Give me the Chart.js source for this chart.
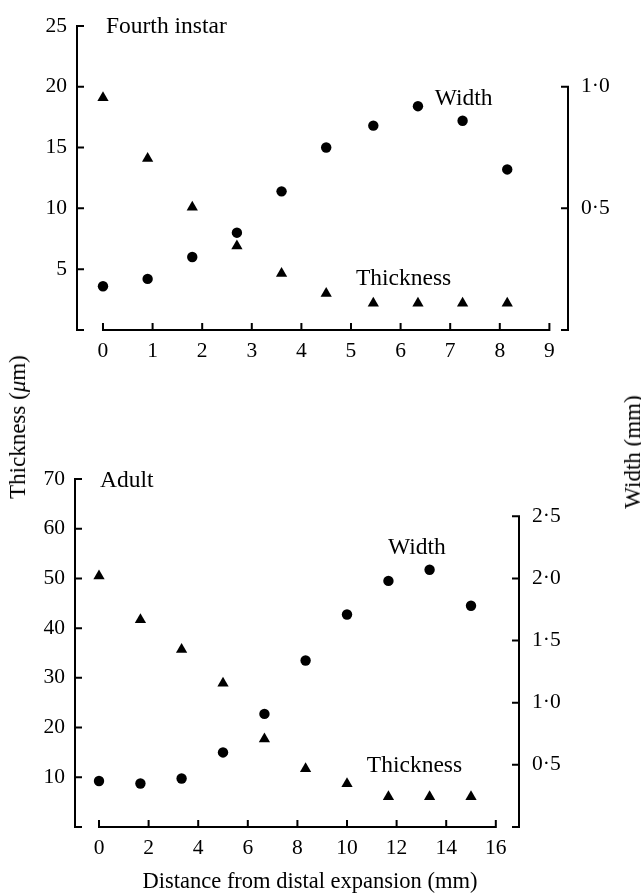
<!DOCTYPE html>
<html lang="en">
  <head>
    <meta charset="UTF-8" />
    <title>Thickness and width along the expansion</title>
    <style>
      html, body { margin: 0; padding: 0; background: #fff; }
      .page {
        position: relative;
        width: 641px;
        height: 894px;
        overflow: hidden;
        font-family: "Liberation Serif", "Times New Roman", serif;
        color: #000;
      }
      canvas { position: absolute; left: 0; }
      #instarChart { top: 0; }
      #adultChart { top: 440px; }
      .side-title {
        position: absolute;
        font-size: 23px;
        white-space: nowrap;
        transform: translate(-50%, -50%) rotate(-90deg);
      }
      .x-title {
        position: absolute;
        font-size: 22.5px;
        white-space: nowrap;
        transform: translate(-50%, -50%);
      }
    </style>
  </head>
  <body>
    <div class="page">
      <canvas id="instarChart" width="641" height="370"></canvas>
      <canvas id="adultChart" width="641" height="454"></canvas>
      <div class="side-title" style="left: 18px; top: 427px">Thickness (<i>μ</i>m)</div>
      <div class="side-title" style="left: 633px; top: 452px">Width (mm)</div>
      <div class="x-title" style="left: 310px; top: 881px">Distance from distal expansion (mm)</div>
    </div>

    <script src="https://cdn.jsdelivr.net/npm/chart.js@4.4.0/dist/chart.umd.min.js"></script>
    <script>
      // Fourth instar
      const instarDistance = [0, 0.9, 1.8, 2.7, 3.6, 4.5, 5.45, 6.35, 7.25, 8.15];
      const instarThickness = [19.1, 14.1, 10.1, 6.9, 4.65, 3.0, 2.2, 2.2, 2.2, 2.2];
      const instarWidth = [0.18, 0.21, 0.3, 0.4, 0.57, 0.75, 0.84, 0.92, 0.86, 0.66];
      const instarXTicks = [0, 1, 2, 3, 4, 5, 6, 7, 8, 9];
      const instarThickTicks = [0, 5, 10, 15, 20, 25];
      const instarWidthTicks = [0, 0.5, 1.0];

      // Adult
      const adultDistance = [0, 1.67, 3.33, 5.0, 6.67, 8.33, 10, 11.67, 13.33, 15];
      const adultThickness = [50.5, 41.7, 35.7, 28.9, 17.7, 11.7, 8.7, 6.1, 6.1, 6.1];
      const adultWidth = [0.37, 0.35, 0.39, 0.6, 0.91, 1.34, 1.71, 1.98, 2.07, 1.78];
      const adultXTicks = [0, 2, 4, 6, 8, 10, 12, 14, 16];
      const adultThickTicks = [0, 10, 20, 30, 40, 50, 60, 70];
      const adultWidthTicks = [0, 0.5, 1.0, 1.5, 2.0, 2.5];

      const FONT = '"Liberation Serif", "Times New Roman", serif';
      const INK = "#000";

      function fixedTicks(values) {
        return (scale) => {
          scale.ticks = values.map((v) => ({ value: v }));
        };
      }

      function fixedSize(prop, size) {
        return (scale) => {
          scale[prop] = size;
        };
      }

      function points(xs, ys) {
        return xs.map((x, i) => ({ x: x, y: ys[i] }));
      }

      const hideZero = (v) => (v === 0 ? "" : String(v));
      const dotDecimal = (v) => (v === 0 ? "" : v.toFixed(1).replace(".", "·"));

      // axis lines with ticks pointing into the plot, only over the tick range
      const inwardAxes = {
        id: "inwardAxes",
        afterDraw(chart) {
          const { ctx, chartArea } = chart;
          const len = 6;
          ctx.save();
          ctx.strokeStyle = INK;
          ctx.lineCap = "square";
          Object.values(chart.scales).forEach((scale) => {
            const ticks = scale.ticks;
            if (!ticks.length) return;
            const a = scale.getPixelForValue(ticks[0].value);
            const b = scale.getPixelForValue(ticks[ticks.length - 1].value);
            ctx.lineWidth = 2;
            ctx.beginPath();
            if (scale.axis === "x") {
              const y = chartArea.bottom;
              ctx.moveTo(a, y);
              ctx.lineTo(b, y);
              ticks.forEach((t) => {
                const p = scale.getPixelForValue(t.value);
                ctx.moveTo(p, y);
                ctx.lineTo(p, y - len);
              });
            } else {
              const left = scale.position === "left";
              const x = left ? chartArea.left : chartArea.right;
              const dir = left ? 1 : -1;
              ctx.moveTo(x, a);
              ctx.lineTo(x, b);
              ticks.forEach((t) => {
                const p = scale.getPixelForValue(t.value);
                ctx.moveTo(x, p);
                ctx.lineTo(x + dir * len, p);
              });
            }
            ctx.stroke();
          });
          ctx.restore();
        },
      };

      // text labels placed in data units
      const notes = {
        id: "notes",
        afterDraw(chart, args, opts) {
          const { ctx } = chart;
          ctx.save();
          ctx.fillStyle = INK;
          ctx.font = "23.5px " + FONT;
          ctx.textAlign = "left";
          ctx.textBaseline = "middle";
          (opts.items || []).forEach(([text, x, y]) => {
            ctx.fillText(
              text,
              chart.scales.x.getPixelForValue(x),
              chart.scales.y.getPixelForValue(y)
            );
          });
          ctx.restore();
        },
      };

      function tickFont() {
        return { family: FONT, size: 21.5 };
      }

      function makeChart(id, cfg) {
        return new Chart(document.getElementById(id), {
          type: "scatter",
          data: {
            datasets: [
              {
                label: "Thickness",
                data: points(cfg.distance, cfg.thickness),
                yAxisID: "y",
                pointStyle: "triangle",
                pointRadius: 6.5,
                backgroundColor: INK,
                borderColor: INK,
                borderWidth: 0,
              },
              {
                label: "Width",
                data: points(cfg.distance, cfg.width),
                yAxisID: "y2",
                pointStyle: "circle",
                pointRadius: 5.2,
                backgroundColor: INK,
                borderColor: INK,
                borderWidth: 0,
              },
            ],
          },
          options: {
            responsive: false,
            animation: false,
            layout: { padding: { top: cfg.top, left: 0, right: 0, bottom: 0 } },
            plugins: {
              legend: { display: false },
              tooltip: { enabled: false },
              notes: { items: cfg.notes },
            },
            scales: {
              x: {
                type: "linear",
                min: cfg.xMin,
                max: cfg.xMax,
                grid: { display: false, drawTicks: false },
                border: { display: false },
                afterBuildTicks: fixedTicks(cfg.xTicks),
                afterFit: fixedSize("height", cfg.xHeight),
                ticks: {
                  color: INK,
                  font: tickFont(),
                  padding: 8,
                  maxRotation: 0,
                  autoSkip: false,
                },
              },
              y: {
                position: "left",
                min: 0,
                max: cfg.yMax,
                grid: { display: false, drawTicks: false },
                border: { display: false },
                afterBuildTicks: fixedTicks(cfg.yTicks),
                afterFit: fixedSize("width", cfg.yWidth),
                ticks: {
                  color: INK,
                  font: tickFont(),
                  padding: 10,
                  autoSkip: false,
                  callback: hideZero,
                },
              },
              y2: {
                position: "right",
                min: 0,
                max: cfg.y2Max,
                grid: { display: false, drawTicks: false },
                border: { display: false },
                afterBuildTicks: fixedTicks(cfg.y2Ticks),
                afterFit: fixedSize("width", cfg.y2Width),
                ticks: {
                  color: INK,
                  font: tickFont(),
                  padding: 13,
                  autoSkip: false,
                  callback: dotDecimal,
                },
              },
            },
          },
          plugins: [inwardAxes, notes],
        });
      }

      const instarChart = makeChart("instarChart", {
        distance: instarDistance,
        thickness: instarThickness,
        width: instarWidth,
        xTicks: instarXTicks,
        yTicks: instarThickTicks,
        y2Ticks: instarWidthTicks,
        xMin: -0.524,
        xMax: 9.375,
        yMax: 25,
        y2Max: 1.25,
        top: 14,
        xHeight: 40,
        yWidth: 77,
        y2Width: 73,
        notes: [
          ["Fourth instar", 0.06, 24.9],
          ["Width", 6.69, 19.0],
          ["Thickness", 5.1, 4.2],
        ],
      });

      const adultChart = makeChart("adultChart", {
        distance: adultDistance,
        thickness: adultThickness,
        width: adultWidth,
        xTicks: adultXTicks,
        yTicks: adultThickTicks,
        y2Ticks: adultWidthTicks,
        xMin: -0.968,
        xMax: 16.935,
        yMax: 70,
        y2Max: 2.8,
        top: 39,
        xHeight: 67,
        yWidth: 75,
        y2Width: 122,
        notes: [
          ["Adult", 0.04, 69.6],
          ["Width", 11.65, 56.2],
          ["Thickness", 10.8, 12.4],
        ],
      });
    </script>
  </body>
</html>
